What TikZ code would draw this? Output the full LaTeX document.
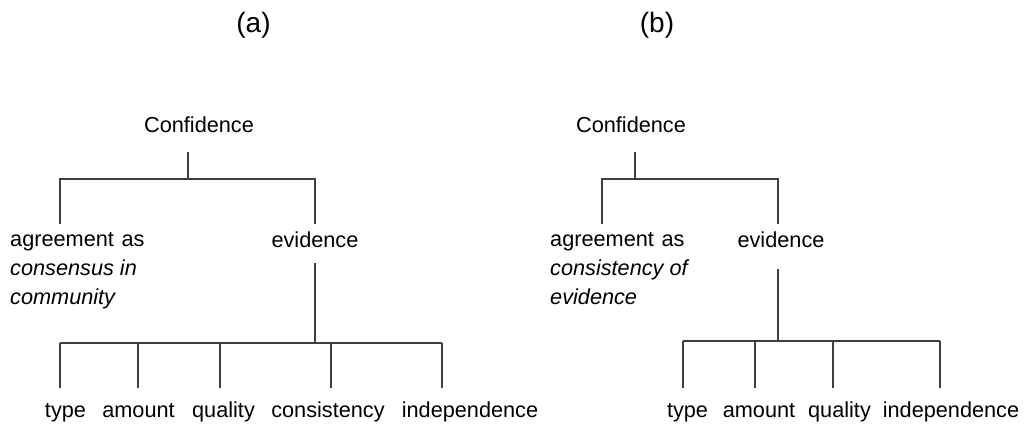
\documentclass[tikz,border=0pt]{standalone}
\usepackage{fontspec}
\setmainfont{Liberation Sans}
\begin{document}
\begin{tikzpicture}[x=1pt,y=-1pt,
  lbl/.style={inner sep=0pt, font=\fontsize{21.7}{29}\selectfont},
  hdr/.style={inner sep=0pt, font=\fontsize{28}{32}\selectfont},
  branch/.style={draw=black!75, line width=1.2pt}]
\useasboundingbox (0,0) rectangle (1025,427);

% ---------- (a) ----------
\node[hdr, anchor=base] (ha) at (253.5,33) {(a)};
\node[lbl, anchor=base] (aconf) at (199,133) {Confidence};
\node[lbl, anchor=base west, align=left] (aagr) at (10,305) {agreement\hspace{0.35em}as\\\textit{consensus in}\\\textit{community}};
\node[lbl, anchor=base] (aevi) at (315,248) {evidence};
\node[lbl, anchor=base] (atyp) at (65.5,417) {type};
\node[lbl, anchor=base] (aamo) at (138.5,417) {amount};
\node[lbl, anchor=base] (aqua) at (223.5,417) {quality};
\node[lbl, anchor=base] (acon) at (328,417) {consistency};
\node[lbl, anchor=base] (aind) at (470,417) {independence};

\coordinate (aS0) at (188,152);
\coordinate (aS1) at (188,179);
\coordinate (aB0) at (60,179);
\coordinate (aB1) at (315,179);
\coordinate (aB0d) at (60,224);
\coordinate (aB1d) at (315,224);
\coordinate (aE0) at (315,263);
\coordinate (aE1) at (315,343);
\coordinate (aL1) at (60,343);
\coordinate (aL5) at (442,343);
\draw[branch] (aS0) -- (aS1);
\draw[branch] (aB0d) -- (aB0) -- (aB1) -- (aB1d);
\draw[branch] (aE0) -- (aE1);
\draw[branch] (aL1) -- (aL5);
\foreach \x/\n in {60/1,138/2,220/3,331/4,442/5}{
  \coordinate (aT\n) at (\x,343);
  \coordinate (aD\n) at (\x,388);
  \draw[branch] (aT\n) -- (aD\n);
}

% ---------- (b) ----------
\node[hdr, anchor=base] (hb) at (657,33) {(b)};
\node[lbl, anchor=base] (bconf) at (631,133) {Confidence};
\node[lbl, anchor=base west, align=left] (bagr) at (550,305) {agreement\hspace{0.35em}as\\\textit{consistency of}\\\textit{evidence}};
\node[lbl, anchor=base] (bevi) at (781,248) {evidence};
\node[lbl, anchor=base] (btyp) at (687.5,417) {type};
\node[lbl, anchor=base] (bamo) at (759,417) {amount};
\node[lbl, anchor=base] (bqua) at (839.5,417) {quality};
\node[lbl, anchor=base] (bind) at (951,417) {independence};

\coordinate (bS0) at (635,152);
\coordinate (bS1) at (635,179);
\coordinate (bB0) at (602,179);
\coordinate (bB1) at (778,179);
\coordinate (bB0d) at (602,224);
\coordinate (bB1d) at (778,224);
\coordinate (bE0) at (778,269);
\coordinate (bE1) at (778,341);
\coordinate (bL1) at (683,341);
\coordinate (bL4) at (940,341);
\draw[branch] (bS0) -- (bS1);
\draw[branch] (bB0d) -- (bB0) -- (bB1) -- (bB1d);
\draw[branch] (bE0) -- (bE1);
\draw[branch] (bL1) -- (bL4);
\foreach \x/\n in {683/1,755/2,833/3,940/4}{
  \coordinate (bT\n) at (\x,341);
  \coordinate (bD\n) at (\x,388);
  \draw[branch] (bT\n) -- (bD\n);
}
\end{tikzpicture}
\end{document}
